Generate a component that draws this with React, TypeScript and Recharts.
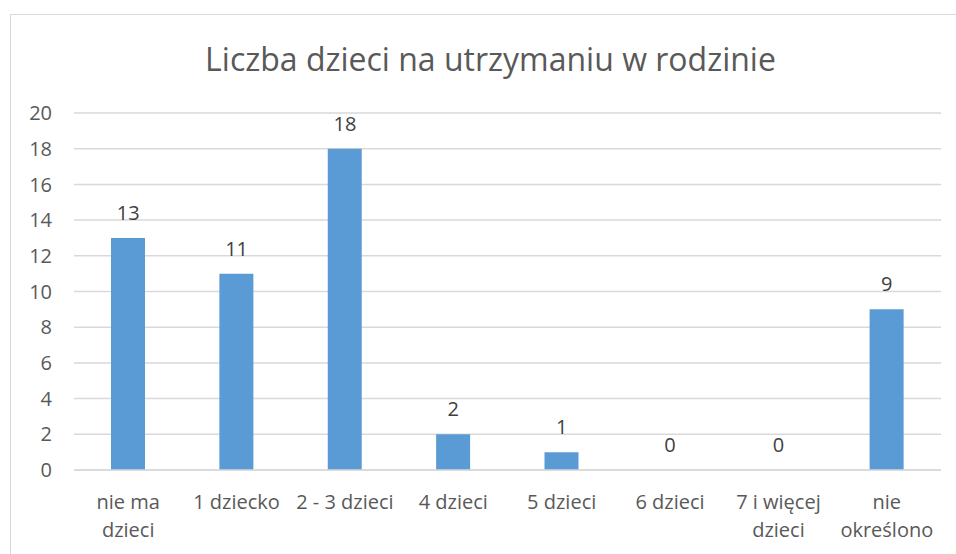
import React from 'react';
import { ComposedChart, Bar, Line, XAxis, YAxis, CartesianGrid, LabelList } from 'recharts';

const TITLE = 'Liczba dzieci na utrzymaniu w rodzinie';
const CATEGORIES = [
  'nie ma\ndzieci',
  '1 dziecko',
  '2 - 3 dzieci',
  '4 dzieci',
  '5 dzieci',
  '6 dzieci',
  '7 i więcej\ndzieci',
  'nie\nokreślono',
];
const COUNTS = [13, 11, 18, 2, 1, 0, 0, 9];
const Y_TICKS = [0, 2, 4, 6, 8, 10, 12, 14, 16, 18, 20];

const FONT = '"Open Sans", "DejaVu Sans", sans-serif';
const BAR_COLOR = '#5B9BD5';
const GRID = '#D9D9D9';
const TEXT = '#595959';

const data = CATEGORIES.map((name, i) => ({ name, value: COUNTS[i] }));

// splits the category label on \n so long names sit on two lines like in Excel
function CategoryTick(props: any) {
  const { x, y, payload } = props;
  const lines = String(payload.value).split('\n');
  return (
    <text x={x} y={y + 31} textAnchor="middle" fill={TEXT} fontSize={20} fontFamily={FONT}>
      {lines.map((line, i) => (
        <tspan key={i} x={x} dy={i === 0 ? 0 : 28}>
          {line}
        </tspan>
      ))}
    </text>
  );
}

export default function App() {
  return (
    <div
      style={{
        position: 'absolute',
        left: 0,
        top: 0,
        width: 956,
        height: 554,
        background: '#fff',
        overflow: 'hidden',
      }}
    >
      <div
        style={{
          position: 'absolute',
          left: 10,
          top: 14,
          width: 960,
          height: 560,
          border: `1px solid ${GRID}`,
          boxSizing: 'border-box',
        }}
      />
      <div
        style={{
          position: 'absolute',
          left: 0,
          top: 37,
          width: 981,
          textAlign: 'center',
          fontFamily: FONT,
          fontSize: 32,
          color: TEXT,
          lineHeight: '44px',
        }}
      >
        {TITLE}
      </div>
      <div style={{ position: 'absolute', left: 0, top: 0 }}>
        <ComposedChart
          width={956}
          height={554}
          data={data}
          margin={{ top: 113, right: 15, bottom: 0, left: 0 }}
          barSize={34}
        >
          <CartesianGrid vertical={false} stroke={GRID} strokeWidth={1.5} />
          <XAxis
            dataKey="name"
            axisLine={{ stroke: GRID, strokeWidth: 1.5 }}
            tickLine={false}
            interval={0}
            height={84}
            tick={<CategoryTick />}
          />
          <YAxis
            width={74}
            domain={[0, 20]}
            ticks={Y_TICKS}
            axisLine={false}
            tickLine={false}
            tickMargin={16}
            tick={{ fill: TEXT, fontSize: 20, fontFamily: FONT }}
          />
          <Bar dataKey="value" fill={BAR_COLOR} isAnimationActive={false} />
          {/* invisible series only to carry the value labels, zero bars included */}
          <Line
            dataKey="value"
            stroke="none"
            dot={false}
            activeDot={false}
            isAnimationActive={false}
          >
            <LabelList
              dataKey="value"
              position="top"
              offset={18}
              fill="#404040"
              fontSize={20}
              fontFamily={FONT}
            />
          </Line>
        </ComposedChart>
      </div>
    </div>
  );
}
